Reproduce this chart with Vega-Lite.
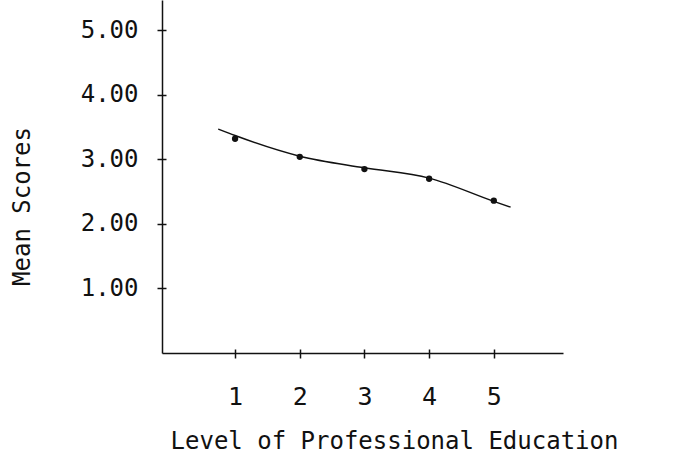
{
  "$schema": "https://vega.github.io/schema/vega-lite/v6.json",
  "width": 401,
  "height": 353,
  "autosize": "none",
  "padding": {"left": 162, "top": 0, "right": 112, "bottom": 103},
  "background": "white",
  "config": {
    "view": {"stroke": null},
    "font": "DejaVu Sans Mono"
  },
  "datasets": {
    "means": [
      {"level": 1, "score": 3.32},
      {"level": 2, "score": 3.04},
      {"level": 3, "score": 2.85},
      {"level": 4, "score": 2.70},
      {"level": 5, "score": 2.36}
    ],
    "curve": [
      {"level": 0.74, "score": 3.47},
      {"level": 1, "score": 3.37},
      {"level": 2, "score": 3.05},
      {"level": 3, "score": 2.87},
      {"level": 4, "score": 2.71},
      {"level": 5, "score": 2.35},
      {"level": 5.26, "score": 2.26}
    ]
  },
  "resolve": {"axis": {"x": "independent", "y": "independent"}},
  "layer": [
    {
      "data": {"name": "curve"},
      "mark": {"type": "line", "interpolate": "monotone", "color": "#111", "strokeWidth": 1.5},
      "encoding": {
        "x": {
          "field": "level",
          "type": "quantitative",
          "scale": {"domain": [-0.13, 6.07], "nice": false, "zero": false},
          "axis": {
            "values": [1, 2, 3, 4, 5],
            "format": "d",
            "grid": false,
            "domainColor": "#111",
            "domainWidth": 1.5,
            "tickColor": "#111",
            "tickWidth": 1.5,
            "tickSize": 5,
            "labelFont": "DejaVu Sans Mono",
            "labelFontSize": 25,
            "labelColor": "#111",
            "labelBaseline": "alphabetic",
            "labelPadding": 46,
            "title": "Level of Professional Education",
            "titleFont": "DejaVu Sans Mono",
            "titleFontSize": 24,
            "titleFontWeight": "normal",
            "titleColor": "#111",
            "titleBaseline": "alphabetic",
            "titleX": 232,
            "titleY": 95
          }
        },
        "y": {
          "field": "score",
          "type": "quantitative",
          "scale": {"domain": [0, 5.47], "nice": false, "zero": false},
          "axis": {
            "values": [1, 2, 3, 4, 5],
            "format": ".2f",
            "grid": false,
            "domainColor": "#111",
            "domainWidth": 1.5,
            "tickColor": "#111",
            "tickWidth": 1.5,
            "tickSize": 5,
            "labelFont": "DejaVu Sans Mono",
            "labelFontSize": 24,
            "labelColor": "#111",
            "labelPadding": 19,
            "title": "Mean Scores",
            "titleFont": "DejaVu Sans Mono",
            "titleFontSize": 24,
            "titleFontWeight": "normal",
            "titleColor": "#111",
            "titleAngle": 270,
            "titleAlign": "center",
            "titleBaseline": "middle",
            "titleX": -140,
            "titleY": 206
          }
        }
      }
    },
    {
      "data": {"name": "means"},
      "mark": {"type": "point", "filled": true, "color": "#111", "size": 40, "opacity": 1},
      "encoding": {
        "x": {
          "field": "level",
          "type": "quantitative",
          "axis": {
            "orient": "bottom",
            "values": [1, 2, 3, 4, 5],
            "grid": false,
            "domain": false,
            "labels": false,
            "title": null,
            "tickColor": "#111",
            "tickWidth": 1.5,
            "tickSize": -4
          }
        },
        "y": {
          "field": "score",
          "type": "quantitative",
          "axis": {
            "orient": "left",
            "values": [1, 2, 3, 4, 5],
            "grid": false,
            "domain": false,
            "labels": false,
            "title": null,
            "tickColor": "#111",
            "tickWidth": 1.5,
            "tickSize": -4
          }
        }
      }
    }
  ]
}
